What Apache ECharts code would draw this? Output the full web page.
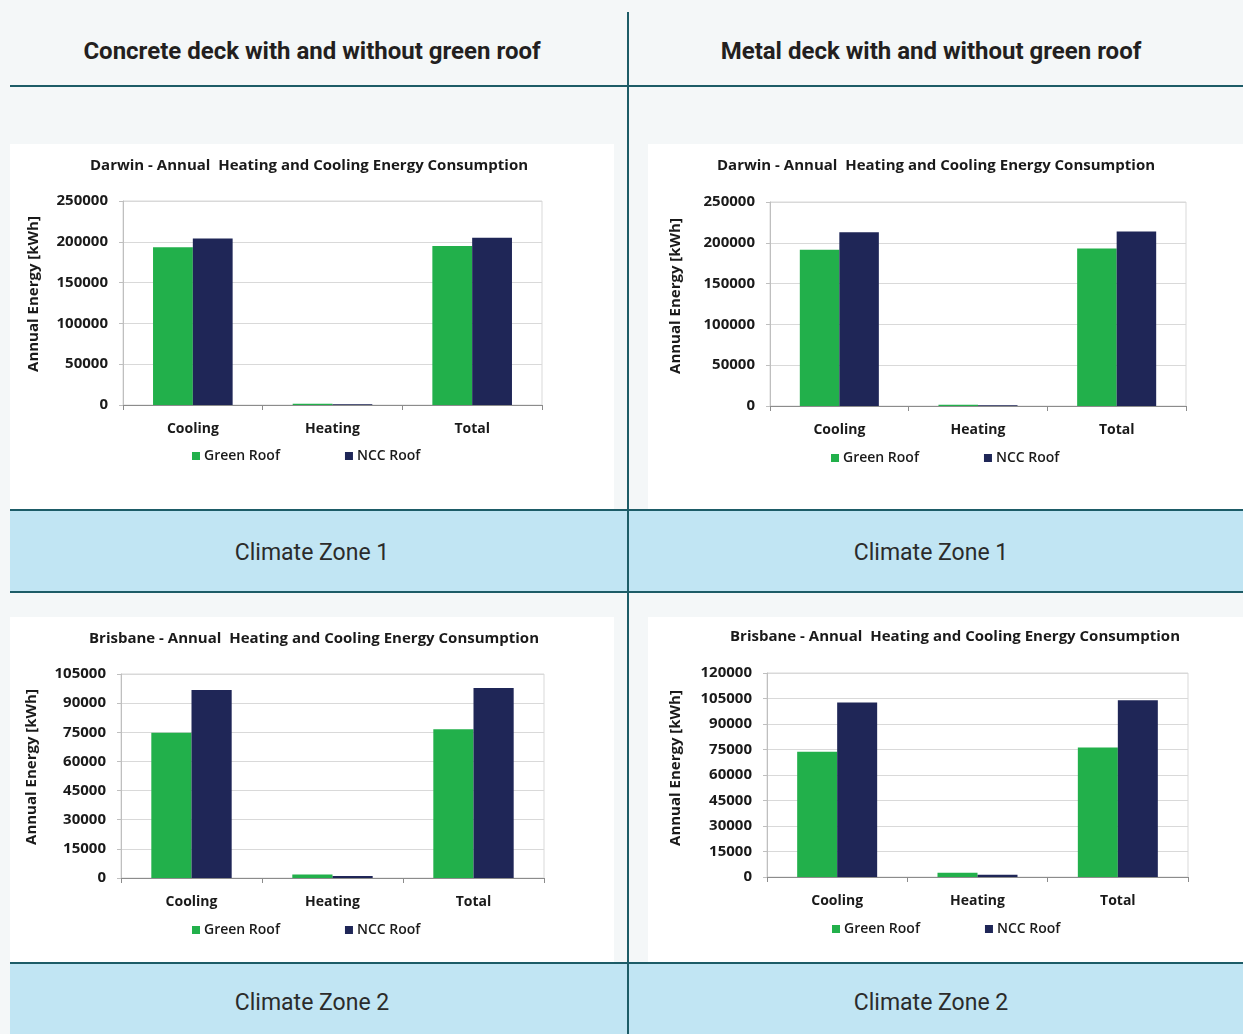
<!DOCTYPE html>
<html>
<head>
<meta charset="utf-8">
<title>Green roof energy comparison</title>
<script src="https://cdn.jsdelivr.net/npm/echarts@6/dist/echarts.min.js"></script>
<style>
  html, body { margin: 0; padding: 0; background: #f4f7f8; }
  #page { position: relative; width: 1243px; height: 1034px; overflow: hidden; background: #f4f7f8; }
  .panel { position: absolute; background: #ffffff; }
  .band { position: absolute; background: #c1e5f3; }
  .hline { position: absolute; height: 2px; background: #1d5c67; }
  .vline { position: absolute; width: 2px; background: #1d5c67; }
  .head { position: absolute; text-align: center; color: #231f20; font-family: Roboto, "Noto Sans", sans-serif; line-height: 1; }
  .head.col { font-weight: bold; font-size: 24px; }
  .head.zone { font-weight: normal; font-size: 23px; color: #2b2b2b; }
  .chart { position: absolute; }
</style>
</head>
<body>
<div id="page">
  <div class="head col" style="left:10px;width:604px;top:39px;">Concrete deck with and without green roof</div>
  <div class="head col" style="left:629px;width:604px;top:39px;">Metal deck with and without green roof</div>

  <div class="panel" style="left:10px;top:144px;width:604px;height:366px;"></div>
  <div class="panel" style="left:648px;top:144px;width:595px;height:366px;"></div>
  <div class="panel" style="left:10px;top:617px;width:604px;height:346px;"></div>
  <div class="panel" style="left:648px;top:617px;width:595px;height:346px;"></div>

  <div class="band" style="left:10px;top:511px;width:1233px;height:81px;"></div>
  <div class="band" style="left:10px;top:964px;width:1233px;height:70px;"></div>

  <div class="head zone" style="left:10px;width:604px;top:541px;">Climate Zone 1</div>
  <div class="head zone" style="left:629px;width:604px;top:541px;">Climate Zone 1</div>
  <div class="head zone" style="left:10px;width:604px;top:991px;">Climate Zone 2</div>
  <div class="head zone" style="left:629px;width:604px;top:991px;">Climate Zone 2</div>

  <div class="hline" style="left:10px;top:85px;width:1233px;"></div>
  <div class="hline" style="left:10px;top:509px;width:1233px;"></div>
  <div class="hline" style="left:10px;top:591px;width:1233px;"></div>
  <div class="hline" style="left:10px;top:962px;width:1233px;"></div>
  <div class="vline" style="left:627px;top:12px;height:1022px;"></div>

  <div id="c1" class="chart" style="left:10px;top:144px;width:604px;height:366px;"></div>
  <div id="c2" class="chart" style="left:648px;top:144px;width:595px;height:366px;"></div>
  <div id="c3" class="chart" style="left:10px;top:617px;width:604px;height:346px;"></div>
  <div id="c4" class="chart" style="left:648px;top:617px;width:595px;height:346px;"></div>
</div>

<script>
// Annual heating and cooling energy [kWh], order follows the categories
const categories = ['Cooling', 'Heating', 'Total'];
const seriesNames = ['Green Roof', 'NCC Roof'];

const darwinConcreteGreen = [193300, 1500, 194800];
const darwinConcreteNcc   = [204000, 1000, 205000];
const darwinMetalGreen    = [191400, 1500, 192900];
const darwinMetalNcc      = [213000, 1000, 214000];
const brisbaneConcreteGreen = [74700, 1800, 76500];
const brisbaneConcreteNcc   = [96800, 1000, 97800];
const brisbaneMetalGreen    = [73700, 2500, 76200];
const brisbaneMetalNcc      = [102700, 1300, 104000];

const darwinTitle = 'Darwin - Annual  Heating and Cooling Energy Consumption';
const brisbaneTitle = 'Brisbane - Annual  Heating and Cooling Energy Consumption';
const yAxisName = 'Annual Energy [kWh]';

const GREEN = '#22b04b';
const NAVY = '#1f2657';
const TEXT = '#1a1a1a';
const FONT = '"Open Sans", "Noto Sans", sans-serif';

function drawChart(id, cfg) {
  const chart = echarts.init(document.getElementById(id), null, { renderer: 'canvas' });
  chart.setOption({
    animation: false,
    backgroundColor: 'transparent',
    textStyle: { fontFamily: FONT },
    graphic: [{
      // chart title
      type: 'text',
      x: cfg.titleX,
      y: cfg.titleY,
      style: {
        text: cfg.title,
        font: 'bold 15px ' + FONT,
        fill: TEXT,
        align: 'center',
        verticalAlign: 'middle',
        textAlign: 'center',
        textVerticalAlign: 'middle'
      }
    }, {
      // value axis caption, rotated to read bottom-up
      type: 'text',
      x: cfg.yName[0],
      y: cfg.yName[1],
      rotation: Math.PI / 2,
      style: {
        text: yAxisName,
        font: 'bold 15px ' + FONT,
        fill: TEXT,
        align: 'center',
        verticalAlign: 'middle',
        textAlign: 'center',
        textVerticalAlign: 'middle'
      }
    }],
    grid: {
      left: cfg.grid[0], top: cfg.grid[1], width: cfg.grid[2], height: cfg.grid[3],
      show: true, borderColor: '#d9d9d9', borderWidth: 1, backgroundColor: 'transparent'
    },
    legend: {
      data: seriesNames,
      left: cfg.legend[0],
      top: cfg.legend[1] - 7,
      padding: 0,
      icon: 'rect',
      itemWidth: 8,
      itemHeight: 8,
      itemGap: 65,
      textStyle: { fontFamily: FONT, fontSize: 14, fontWeight: 600, color: TEXT, padding: [0, 0, 0, -1] }
    },
    xAxis: {
      type: 'category',
      data: categories,
      axisLine: { lineStyle: { color: '#8c8c8c', width: 1 } },
      axisTick: { show: true, length: 5, lineStyle: { color: '#8c8c8c' } },
      axisLabel: { margin: 17, fontFamily: FONT, fontSize: 14, fontWeight: 'bold', color: TEXT },
      splitLine: { show: false }
    },
    yAxis: {
      type: 'value',
      min: 0,
      max: cfg.yMax,
      interval: cfg.yStep,
      axisLine: { show: true, lineStyle: { color: '#bfbfbf' } },
      axisTick: { show: true, length: 4, lineStyle: { color: '#bfbfbf' } },
      axisLabel: {
        margin: 15, fontFamily: FONT, fontSize: 15, fontWeight: 'bold', color: TEXT,
        formatter: (v) => String(v)
      },
      splitLine: { lineStyle: { color: '#d9d9d9' } }
    },
    series: [
      { type: 'bar', name: seriesNames[0], data: cfg.green, barGap: '0%', barCategoryGap: '43%', itemStyle: { color: GREEN } },
      { type: 'bar', name: seriesNames[1], data: cfg.ncc, barGap: '0%', barCategoryGap: '43%', itemStyle: { color: NAVY } }
    ]
  });
}

drawChart('c1', {
  title: darwinTitle, titleX: 299, titleY: 22,
  grid: [113, 57, 419, 204], legend: [182, 312], yName: [24, 150],
  yMax: 250000, yStep: 50000,
  green: darwinConcreteGreen, ncc: darwinConcreteNcc
});
drawChart('c2', {
  title: darwinTitle, titleX: 288, titleY: 22,
  grid: [122, 58, 416, 204], legend: [183, 314], yName: [28, 152],
  yMax: 250000, yStep: 50000,
  green: darwinMetalGreen, ncc: darwinMetalNcc
});
drawChart('c3', {
  title: brisbaneTitle, titleX: 304, titleY: 22,
  grid: [111, 57, 423, 204], legend: [182, 313], yName: [22, 150],
  yMax: 105000, yStep: 15000,
  green: brisbaneConcreteGreen, ncc: brisbaneConcreteNcc
});
drawChart('c4', {
  title: brisbaneTitle, titleX: 307, titleY: 20,
  grid: [119, 56, 421, 204], legend: [184, 312], yName: [28, 151],
  yMax: 120000, yStep: 15000,
  green: brisbaneMetalGreen, ncc: brisbaneMetalNcc
});
</script>
</body>
</html>
